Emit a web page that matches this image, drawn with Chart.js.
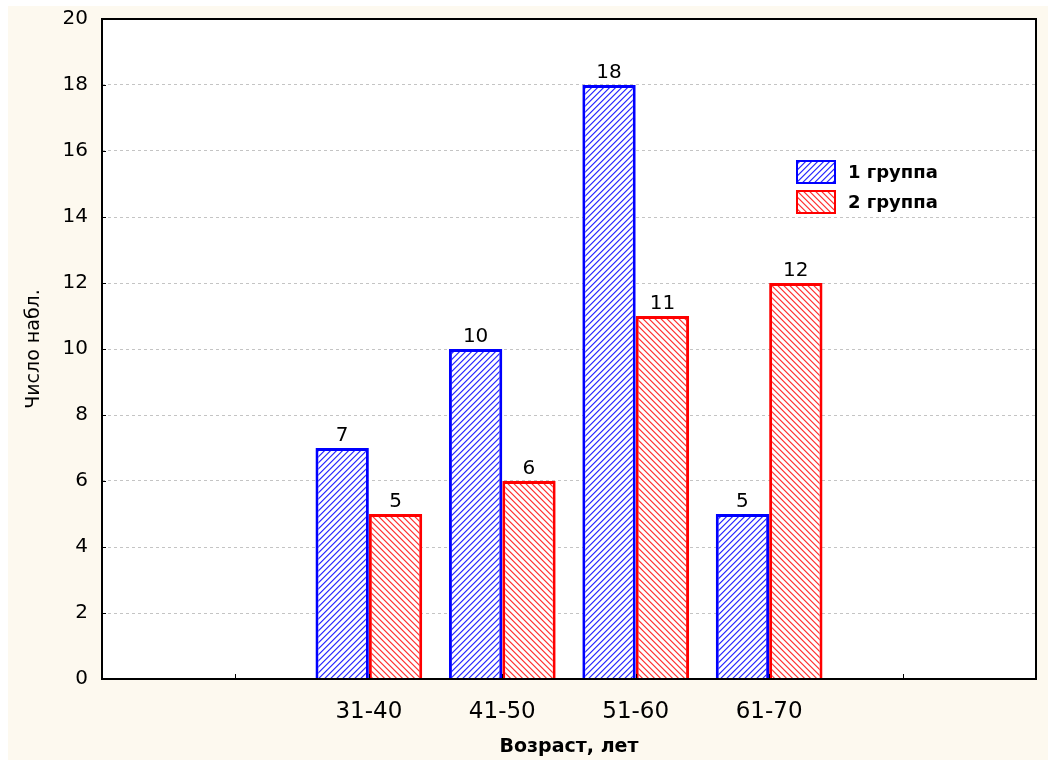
<!DOCTYPE html>
<html>
<head>
<meta charset="utf-8">
<script src="https://cdn.jsdelivr.net/npm/chart.js@4/dist/chart.umd.min.js"></script>
<style>
  html, body { margin: 0; padding: 0; background: #fff; }
  canvas { display: block; }
</style>
</head>
<body>
<canvas id="chart" width="1048" height="760"></canvas>
<script>
// data
const ageGroups = ["31-40", "41-50", "51-60", "61-70"];
const group1 = [7, 10, 18, 5];
const group2 = [5, 6, 11, 12];
const seriesNames = ["1 группа", "2 группа"];
const yTicks = [0, 2, 4, 6, 8, 10, 12, 14, 16, 18, 20];

// two empty slots on the left and two on the right
const labels = ["", ""].concat(ageGroups, ["", ""]);
function pad(arr) {
  return [null, null].concat(arr, [null, null]);
}

const FONT = "'DejaVu Sans', Arial, sans-serif";

function hatch(r, g, b, dir) {
  const size = 6;
  const c = document.createElement("canvas");
  c.width = size;
  c.height = size;
  const cx = c.getContext("2d");
  const img = cx.createImageData(size, size);
  const mix = (t) => [
    Math.round(r * t + 255 * (1 - t)),
    Math.round(g * t + 255 * (1 - t)),
    Math.round(b * t + 255 * (1 - t)),
  ];
  for (let y = 0; y < size; y++) {
    for (let x = 0; x < size; x++) {
      const k = dir > 0 ? (x + y) % size : ((x - y) % size + size) % size;
      const i = (y * size + x) * 4;
      let col = [255, 255, 255];
      if (k === 0) col = mix(1);
      else if (k === 1) col = mix(0.55);
      else if (k === size - 1) col = mix(0.2);
      img.data[i] = col[0];
      img.data[i + 1] = col[1];
      img.data[i + 2] = col[2];
      img.data[i + 3] = 255;
    }
  }
  cx.putImageData(img, 0, 0);
  return cx.createPattern(c, "repeat");
}

const ctx = document.getElementById("chart").getContext("2d");
const blueFill = hatch(50, 50, 255, 1);
const redFill = hatch(255, 60, 60, -1);

const backgroundPlugin = {
  id: "background",
  beforeDraw(chart) {
    const c = chart.ctx;
    const a = chart.chartArea;
    c.save();
    c.fillStyle = "#ffffff";
    c.fillRect(0, 0, chart.width, chart.height);
    c.fillStyle = "#fdf9ef";
    c.fillRect(8, 6, chart.width - 8, chart.height - 6);
    c.fillStyle = "#ffffff";
    c.fillRect(a.left, a.top, a.right - a.left, a.bottom - a.top);
    c.restore();
  },
};

const frameAndLabelsPlugin = {
  id: "frameAndLabels",
  afterDatasetsDraw(chart) {
    const c = chart.ctx;
    const a = chart.chartArea;
    const xs = chart.scales.x;
    const ys = chart.scales.y;
    c.save();

    // inward tick marks
    c.strokeStyle = "#000";
    c.lineWidth = 1;
    c.beginPath();
    yTicks.forEach((v) => {
      const y = Math.round(ys.getPixelForValue(v)) + 0.5;
      c.moveTo(a.left, y);
      c.lineTo(a.left + 4, y);
    });
    for (let i = 1; i < labels.length - 1; i++) {
      const x = Math.round(xs.getPixelForValue(i)) + 0.5;
      c.moveTo(x, a.bottom);
      c.lineTo(x, a.bottom - 5);
    }
    c.stroke();

    // frame
    c.lineWidth = 2;
    c.strokeRect(a.left, a.top, a.right - a.left, a.bottom - a.top);

    // value labels
    c.fillStyle = "#000";
    c.font = "20px " + FONT;
    c.textAlign = "center";
    c.textBaseline = "alphabetic";
    chart.data.datasets.forEach((ds, di) => {
      const meta = chart.getDatasetMeta(di);
      meta.data.forEach((el, i) => {
        const v = ds.data[i];
        if (v === null || v === undefined) return;
        c.fillText(String(v), el.x, el.y - 7);
      });
    });

    // legend
    const lx = a.right - 239;
    const ly = a.top + 142;
    chart.data.datasets.forEach((ds, di) => {
      const y = ly + di * 30;
      c.fillStyle = ds.backgroundColor;
      c.fillRect(lx, y, 38, 22);
      c.strokeStyle = ds.borderColor;
      c.lineWidth = 2;
      c.strokeRect(lx, y, 38, 22);
      c.fillStyle = "#000";
      c.font = "bold 18px " + FONT;
      c.textAlign = "left";
      c.textBaseline = "middle";
      c.fillText(ds.label, lx + 51, y + 12);
    });
    c.restore();
  },
};

function noAutoPadding(scale) {
  scale.paddingTop = 0;
  scale.paddingBottom = 0;
  scale.paddingLeft = 0;
  scale.paddingRight = 0;
}

new Chart(ctx, {
  type: "bar",
  data: {
    labels: labels,
    datasets: [
      {
        label: seriesNames[0],
        data: pad(group1),
        backgroundColor: blueFill,
        borderColor: "#0000ff",
        borderWidth: 3,
        borderSkipped: "bottom",
      },
      {
        label: seriesNames[1],
        data: pad(group2),
        backgroundColor: redFill,
        borderColor: "#ff0000",
        borderWidth: 3,
        borderSkipped: "bottom",
      },
    ],
  },
  options: {
    responsive: false,
    animation: false,
    events: [],
    layout: { padding: { left: 8, top: 19, right: 12, bottom: 0 } },
    datasets: {
      bar: { categoryPercentage: 0.8, barPercentage: 1.0 },
    },
    plugins: {
      legend: { display: false },
      tooltip: { enabled: false },
    },
    scales: {
      x: {
        offset: false,
        grid: { display: false, drawTicks: false },
        border: { display: false },
        ticks: {
          autoSkip: false,
          maxRotation: 0,
          padding: 19,
          color: "#000",
          font: { family: FONT, size: 23 },
        },
        title: {
          display: true,
          text: "Возраст, лет",
          color: "#000",
          font: { family: FONT, size: 19, weight: "bold" },
          padding: { top: 0, bottom: 2 },
        },
        afterFit(scale) {
          scale.height = 81;
          noAutoPadding(scale);
        },
      },
      y: {
        min: 0,
        max: 20,
        grid: {
          color: "#c4c4c4",
          lineWidth: 1,
          drawTicks: false,
        },
        border: { display: false, dash: [3, 3] },
        ticks: {
          stepSize: 2,
          padding: 14,
          color: "#000",
          font: { family: FONT, size: 20 },
        },
        title: {
          display: true,
          text: "Число набл.",
          color: "#000",
          font: { family: FONT, size: 19 },
          padding: { top: 15, bottom: 0 },
        },
        afterFit(scale) {
          scale.width = 94;
          noAutoPadding(scale);
        },
      },
    },
  },
  plugins: [backgroundPlugin, frameAndLabelsPlugin],
});
</script>
</body>
</html>
